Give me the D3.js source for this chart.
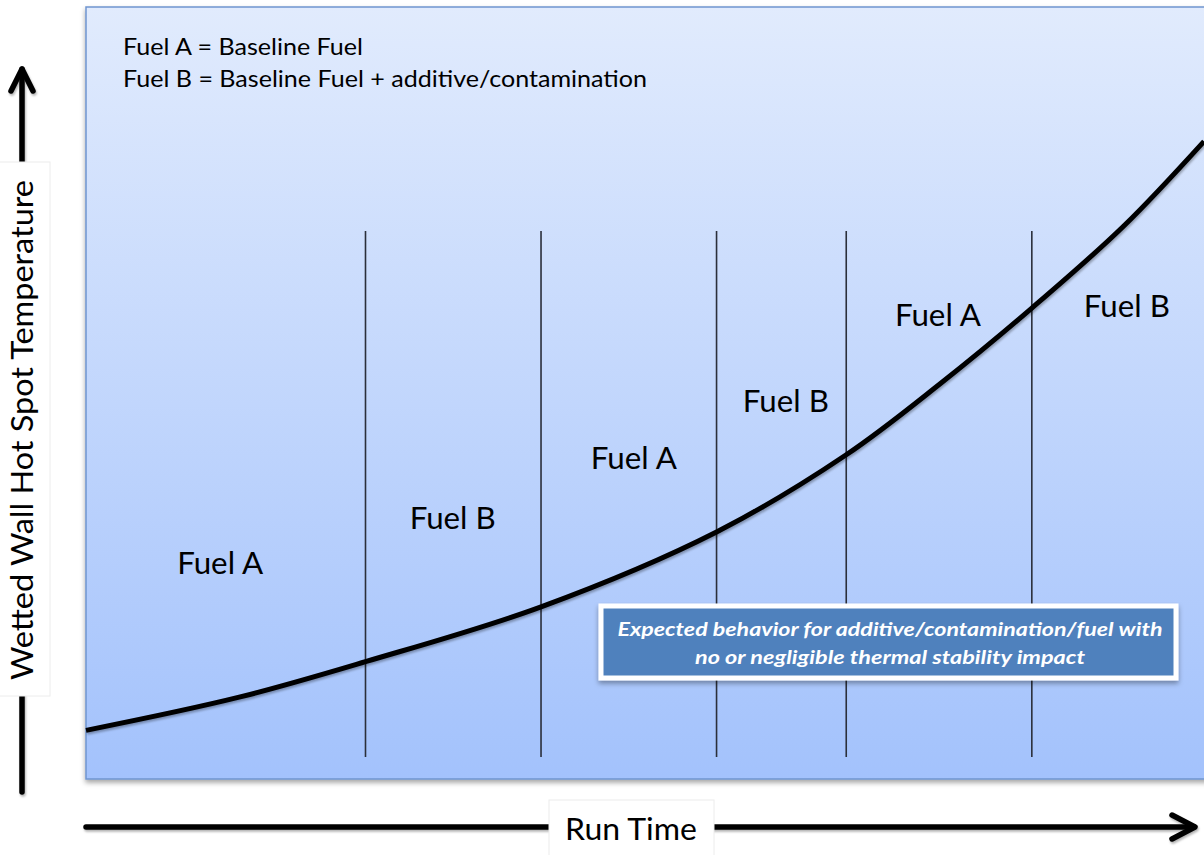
<!DOCTYPE html>
<html>
<head>
<meta charset="utf-8">
<script src="https://cdn.jsdelivr.net/npm/d3@7"></script>
<style>
  body { margin: 0; background: #fff; }
  svg { display: block; font-family: Lato, "Open Sans", sans-serif; }
</style>
</head>
<body>
<svg id="chart" width="1204" height="855"></svg>
<script>
// Curve: run time (0-100) vs hot spot temperature (0-100)
const runTime = [0, 13.7, 25.0, 40.7, 56.4, 68.0, 76.4, 84.6, 92.8, 100];
const temperature = [6.3, 10.6, 15.2, 22.3, 32.0, 42.0, 51.2, 61.0, 71.6, 82.6];

// Fuel switch times
const switchTimes = [25.0, 40.7, 56.4, 68.0, 84.6];

// Fuel segment labels and where they sit
const fuelNames = ["Fuel A", "Fuel B", "Fuel A", "Fuel B", "Fuel A", "Fuel B"];
const labelTime = [12.0, 32.8, 49.0, 62.6, 76.2, 93.1];
const labelTemp = [28.0, 33.8, 41.6, 49.0, 60.1, 61.3];

const legendLines = [
  "Fuel A = Baseline Fuel",
  "Fuel B = Baseline Fuel + additive/contamination",
];
const calloutLines = [
  "Expected behavior for additive/contamination/fuel with",
  "no or negligible thermal stability impact",
];

const svg = d3.select("#chart");
const panel = { left: 86, right: 1204, top: 7, bottom: 779 };

const x = d3.scaleLinear().domain([0, 100]).range([panel.left, panel.right]);
const y = d3.scaleLinear().domain([0, 100]).range([panel.bottom, panel.top]);

const defs = svg.append("defs");
const grad = defs
  .append("linearGradient")
  .attr("id", "bg")
  .attr("x1", 0).attr("y1", 0).attr("x2", 0).attr("y2", 1);
grad.append("stop").attr("offset", "0%").attr("stop-color", "#e1ebfd");
grad.append("stop").attr("offset", "100%").attr("stop-color", "#a3c2fc");

const shadow = defs.append("filter").attr("id", "shadow")
  .attr("x", "-5%").attr("y", "-5%").attr("width", "110%").attr("height", "120%");
shadow.append("feDropShadow")
  .attr("dx", 0).attr("dy", 3).attr("stdDeviation", 2.5)
  .attr("flood-color", "#000").attr("flood-opacity", 0.35);

const lineShadow = defs.append("filter").attr("id", "lshadow")
  .attr("x", "-10%").attr("y", "-10%").attr("width", "120%").attr("height", "130%");
lineShadow.append("feDropShadow")
  .attr("dx", 1).attr("dy", 2).attr("stdDeviation", 1.2)
  .attr("flood-color", "#000").attr("flood-opacity", 0.3);

// Plot panel
svg.append("rect")
  .attr("x", panel.left)
  .attr("y", panel.top)
  .attr("width", panel.right - panel.left + 10)
  .attr("height", panel.bottom - panel.top)
  .attr("fill", "url(#bg)")
  .attr("stroke", "#6f95cf")
  .attr("stroke-width", 1.5)
  .attr("filter", "url(#shadow)");

// Legend text
svg.append("g")
  .selectAll("text")
  .data(legendLines)
  .join("text")
  .attr("x", 123)
  .attr("y", (d, i) => 55 + i * 32)
  .attr("font-size", 22.5)
  .attr("fill", "#000")
  .attr("textLength", (d, i) => (i === 0 ? 240 : 524))
  .attr("lengthAdjust", "spacingAndGlyphs")
  .text((d) => d);

// Vertical fuel switch lines
svg.append("g")
  .selectAll("line")
  .data(switchTimes)
  .join("line")
  .attr("x1", (d) => x(d))
  .attr("x2", (d) => x(d))
  .attr("y1", 231)
  .attr("y2", 757)
  .attr("stroke", "#2b2f3a")
  .attr("stroke-width", 1.6);

// Temperature curve
const line = d3.line()
  .x((d) => x(d[0]))
  .y((d) => y(d[1]))
  .curve(d3.curveCatmullRom.alpha(0.5));

svg.append("path")
  .datum(runTime.map((t, i) => [t, temperature[i]]))
  .attr("d", line)
  .attr("fill", "none")
  .attr("stroke", "#000")
  .attr("stroke-width", 5)
  .attr("filter", "url(#lshadow)");

// Fuel labels
svg.append("g")
  .selectAll("text")
  .data(fuelNames)
  .join("text")
  .attr("x", (d, i) => x(labelTime[i]))
  .attr("y", (d, i) => y(labelTemp[i]) + 11)
  .attr("text-anchor", "middle")
  .attr("font-size", 31.5)
  .attr("textLength", 86)
  .attr("lengthAdjust", "spacingAndGlyphs")
  .text((d) => d);

// Callout box
const callout = svg.append("g");
callout.append("rect")
  .attr("x", 601)
  .attr("y", 606)
  .attr("width", 575)
  .attr("height", 72)
  .attr("fill", "#4f81bd")
  .attr("stroke", "#fff")
  .attr("stroke-width", 5)
  .attr("filter", "url(#shadow)");
callout.selectAll("text")
  .data(calloutLines)
  .join("text")
  .attr("x", 890)
  .attr("y", (d, i) => 636 + i * 28)
  .attr("text-anchor", "middle")
  .attr("font-size", 18.6)
  .attr("font-weight", "bold")
  .attr("font-style", "italic")
  .attr("fill", "#fff")
  .attr("textLength", (d, i) => (i === 0 ? 545 : 390))
  .attr("lengthAdjust", "spacingAndGlyphs")
  .text((d) => d);

// Axis arrows
const arrows = svg.append("g")
  .attr("stroke", "#000")
  .attr("stroke-width", 5.5)
  .attr("stroke-linecap", "round")
  .attr("stroke-linejoin", "round")
  .attr("fill", "none")
  .attr("filter", "url(#lshadow)");
arrows.append("line").attr("x1", 22).attr("x2", 22).attr("y1", 792).attr("y2", 69);
arrows.append("path").attr("d", "M11,91 L22,69 L33,91");
arrows.append("line").attr("x1", 86).attr("x2", 1194).attr("y1", 827).attr("y2", 827);
arrows.append("path").attr("d", "M1172,815 L1195,827 L1172,839");

// Y axis label box
svg.append("rect")
  .attr("x", -1)
  .attr("y", 162)
  .attr("width", 51)
  .attr("height", 534)
  .attr("fill", "#fff")
  .attr("stroke", "#ececec");
svg.append("text")
  .attr("transform", "translate(33,430) rotate(-90)")
  .attr("text-anchor", "middle")
  .attr("font-size", 30)
  .attr("textLength", 500)
  .attr("lengthAdjust", "spacingAndGlyphs")
  .text("Wetted Wall Hot Spot Temperature");

// X axis label box
svg.append("rect")
  .attr("x", 549)
  .attr("y", 800)
  .attr("width", 165)
  .attr("height", 60)
  .attr("fill", "#fff")
  .attr("stroke", "#ececec");
svg.append("text")
  .attr("x", 631)
  .attr("y", 840)
  .attr("text-anchor", "middle")
  .attr("font-size", 30)
  .attr("textLength", 132)
  .attr("lengthAdjust", "spacingAndGlyphs")
  .text("Run Time");
</script>
</body>
</html>
